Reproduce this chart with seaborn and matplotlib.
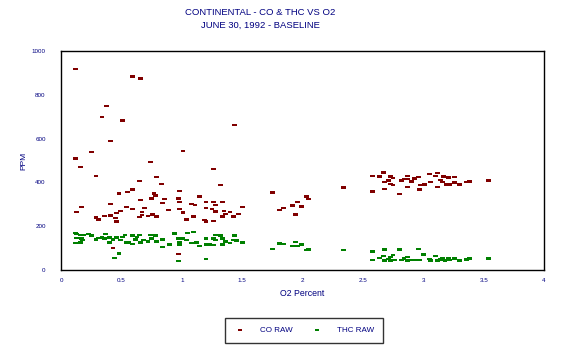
import matplotlib
matplotlib.use("Agg")
import matplotlib.pyplot as plt
import seaborn as sns
import numpy as np
import pandas as pd

# CO RAW readings (O2 %, PPM)
co_o2 = [0.12, 0.59, 0.66, 0.38, 0.34, 0.51, 1.44, 0.41, 0.25, 1.01, 0.12, 0.16,
         0.74, 1.26, 0.29, 0.79, 0.65, 0.83, 1.32, 0.59, 0.98, 0.55, 0.48, 0.77,
         0.78, 1.15, 0.75, 0.66, 0.86, 0.97, 0.84, 0.98, 1.20, 1.26, 1.34, 0.41,
         1.08, 1.11, 1.28, 0.17, 0.54, 1.50, 0.59, 0.69, 0.89, 0.98, 1.20, 1.25,
         0.49, 0.67, 1.01, 1.28, 1.35, 1.40, 0.13, 0.46, 0.76, 1.36, 1.47, 0.36,
         0.41, 0.67, 0.72, 0.79, 1.10, 1.34, 1.43, 0.29, 0.45, 0.65, 0.31, 1.04,
         1.19, 0.46, 1.20, 1.26, 0.43, 0.97, 1.75, 1.81, 1.84, 1.92, 1.94, 1.96,
         1.99, 2.03, 2.05, 2.34, 2.58, 2.58, 2.64, 2.67, 2.68, 2.68, 2.71, 2.73,
         2.73, 2.75, 2.75, 2.80, 2.82, 2.84, 2.87, 2.87, 2.87, 2.90, 2.93, 2.96,
         2.97, 2.98, 3.01, 3.05, 3.06, 3.10, 3.12, 3.12, 3.14, 3.16, 3.17, 3.19,
         3.21, 3.22, 3.26, 3.26, 3.30, 3.36, 3.38, 3.54]
co_ppm = [918, 884, 874, 750, 698, 682, 662, 588, 539, 543, 510, 470,
          493, 461, 429, 425, 406, 393, 387, 368, 361, 356, 350, 350,
          341, 335, 326, 320, 323, 326, 307, 311, 311, 311, 311, 301,
          300, 296, 296, 288, 288, 288, 279, 283, 274, 279, 283, 279,
          269, 265, 263, 268, 269, 265, 265, 259, 254, 257, 257, 247,
          248, 252, 247, 244, 244, 244, 244, 239, 237, 242, 230, 230,
          228, 222, 221, 224, 100, 72, 353, 275, 283, 294, 253, 311,
          289, 335, 324, 376, 359, 429, 426, 446, 403, 370, 408, 426,
          393, 420, 388, 347, 408, 416, 429, 416, 380, 405, 418, 425,
          367, 388, 390, 437, 401, 429, 443, 380, 410, 402, 426, 390,
          423, 391, 425, 399, 390, 403, 405, 408]

# THC RAW readings (O2 %, PPM)
thc_o2 = [0.12, 0.13, 0.16, 0.19, 0.23, 0.25, 0.13, 0.17, 0.18, 0.12, 0.16, 0.29,
          0.31, 0.34, 0.36, 0.37, 0.40, 0.40, 0.43, 0.46, 0.49, 0.51, 0.53, 0.54,
          0.56, 0.59, 0.59, 0.62, 0.63, 0.65, 0.66, 0.68, 0.72, 0.74, 0.75, 0.78,
          0.79, 0.84, 0.84, 0.90, 0.94, 0.97, 0.98, 0.98, 0.99, 1.01, 1.04, 1.05,
          1.08, 1.10, 1.12, 1.15, 1.20, 1.20, 1.23, 1.26, 1.26, 1.28, 1.28, 1.32,
          1.34, 1.34, 1.36, 1.40, 1.43, 1.44, 1.45, 1.50, 0.44, 0.48, 0.97, 1.20,
          1.75, 1.81, 1.81, 1.84, 1.92, 1.94, 1.96, 1.99, 2.03, 2.05, 2.34, 2.58,
          2.58, 2.64, 2.67, 2.68, 2.68, 2.71, 2.73, 2.73, 2.75, 2.76, 2.80, 2.82,
          2.84, 2.87, 2.87, 2.90, 2.93, 2.96, 2.97, 3.00, 3.05, 3.06, 3.10, 3.12,
          3.14, 3.16, 3.18, 3.21, 3.22, 3.26, 3.30, 3.36, 3.38, 3.54]
thc_ppm = [169, 163, 160, 160, 163, 157, 146, 143, 137, 122, 125, 140,
           146, 149, 143, 163, 149, 125, 140, 149, 137, 152, 160, 125,
           125, 157, 119, 140, 152, 160, 125, 137, 131, 160, 143, 157,
           131, 140, 106, 116, 166, 143, 125, 116, 146, 143, 137, 170,
           122, 173, 125, 110, 143, 116, 116, 113, 143, 137, 160, 157,
           143, 116, 131, 122, 137, 157, 134, 125, 55, 76, 40, 49,
           95, 122, 120, 120, 110, 128, 110, 116, 91, 94, 90, 85,
           46, 56, 65, 94, 44, 50, 59, 43, 68, 46, 94, 46,
           53, 58, 44, 46, 46, 97, 46, 70, 50, 44, 64, 43,
           47, 53, 43, 56, 46, 52, 43, 47, 52, 52]

df = pd.concat([
    pd.DataFrame({"O2": co_o2, "PPM": co_ppm, "series": "CO RAW"}),
    pd.DataFrame({"O2": thc_o2, "PPM": thc_ppm, "series": "THC RAW"}),
])

navy = "#000080"
palette = {"CO RAW": "#800000", "THC RAW": "#008000"}
rect = [(-1, -0.5), (1, -0.5), (1, 0.5), (-1, 0.5)]

sns.set_style("white")
plt.rcParams["font.family"] = ["Liberation Sans", "DejaVu Sans"]

fig = plt.figure(figsize=(5.74, 3.51), dpi=100)
ax = fig.add_axes([0.1063, 0.2308, 0.8415, 0.6239])

sns.scatterplot(data=df, x="O2", y="PPM", hue="series", palette=palette,
                marker=rect, s=12, linewidth=0, ax=ax, legend=False)

ax.set_xlim(0, 4)
ax.set_ylim(0, 1000)
ax.set_xticks(np.arange(0, 4.01, 0.5))
ax.set_xticklabels(["0", "0.5", "1", "1.5", "2", "2.5", "3", "3.5", "4"])
ax.set_yticks(range(0, 1001, 200))
ax.tick_params(axis="both", length=0, labelsize=4.5, labelcolor=navy)
ax.tick_params(axis="x", pad=6)
ax.tick_params(axis="y", pad=11)
for sp in ax.spines.values():
    sp.set_color("black")
    sp.set_linewidth(1.0)

ax.set_xlabel("O2 Percent", color=navy, fontsize=6.3, labelpad=4)
ax.set_ylabel("PPM", color=navy, fontsize=6, labelpad=3)

fig.text(0.453, 0.965, "CONTINENTAL - CO & THC VS O2", ha="center", va="center",
         color=navy, fontsize=6.8)
fig.text(0.453, 0.928, "JUNE 30, 1992 - BASELINE", ha="center", va="center",
         color=navy, fontsize=6.8)

handles = [plt.Line2D([], [], linestyle="none", marker=rect, markersize=3.5,
                      markerfacecolor=palette[k], markeredgewidth=0)
           for k in ["CO RAW", "THC RAW"]]
leg = fig.legend(handles, ["CO RAW", "THC RAW"], loc="center",
                 bbox_to_anchor=(0.53, 0.058), ncol=2, fontsize=5.8,
                 frameon=True, fancybox=False, borderpad=1.1,
                 columnspacing=2.2, handletextpad=1.8, handlelength=1.5)
leg.get_frame().set_edgecolor("black")
leg.get_frame().set_linewidth(1.0)
for t in leg.get_texts():
    t.set_color(navy)

fig.savefig("out.png", dpi=100)
